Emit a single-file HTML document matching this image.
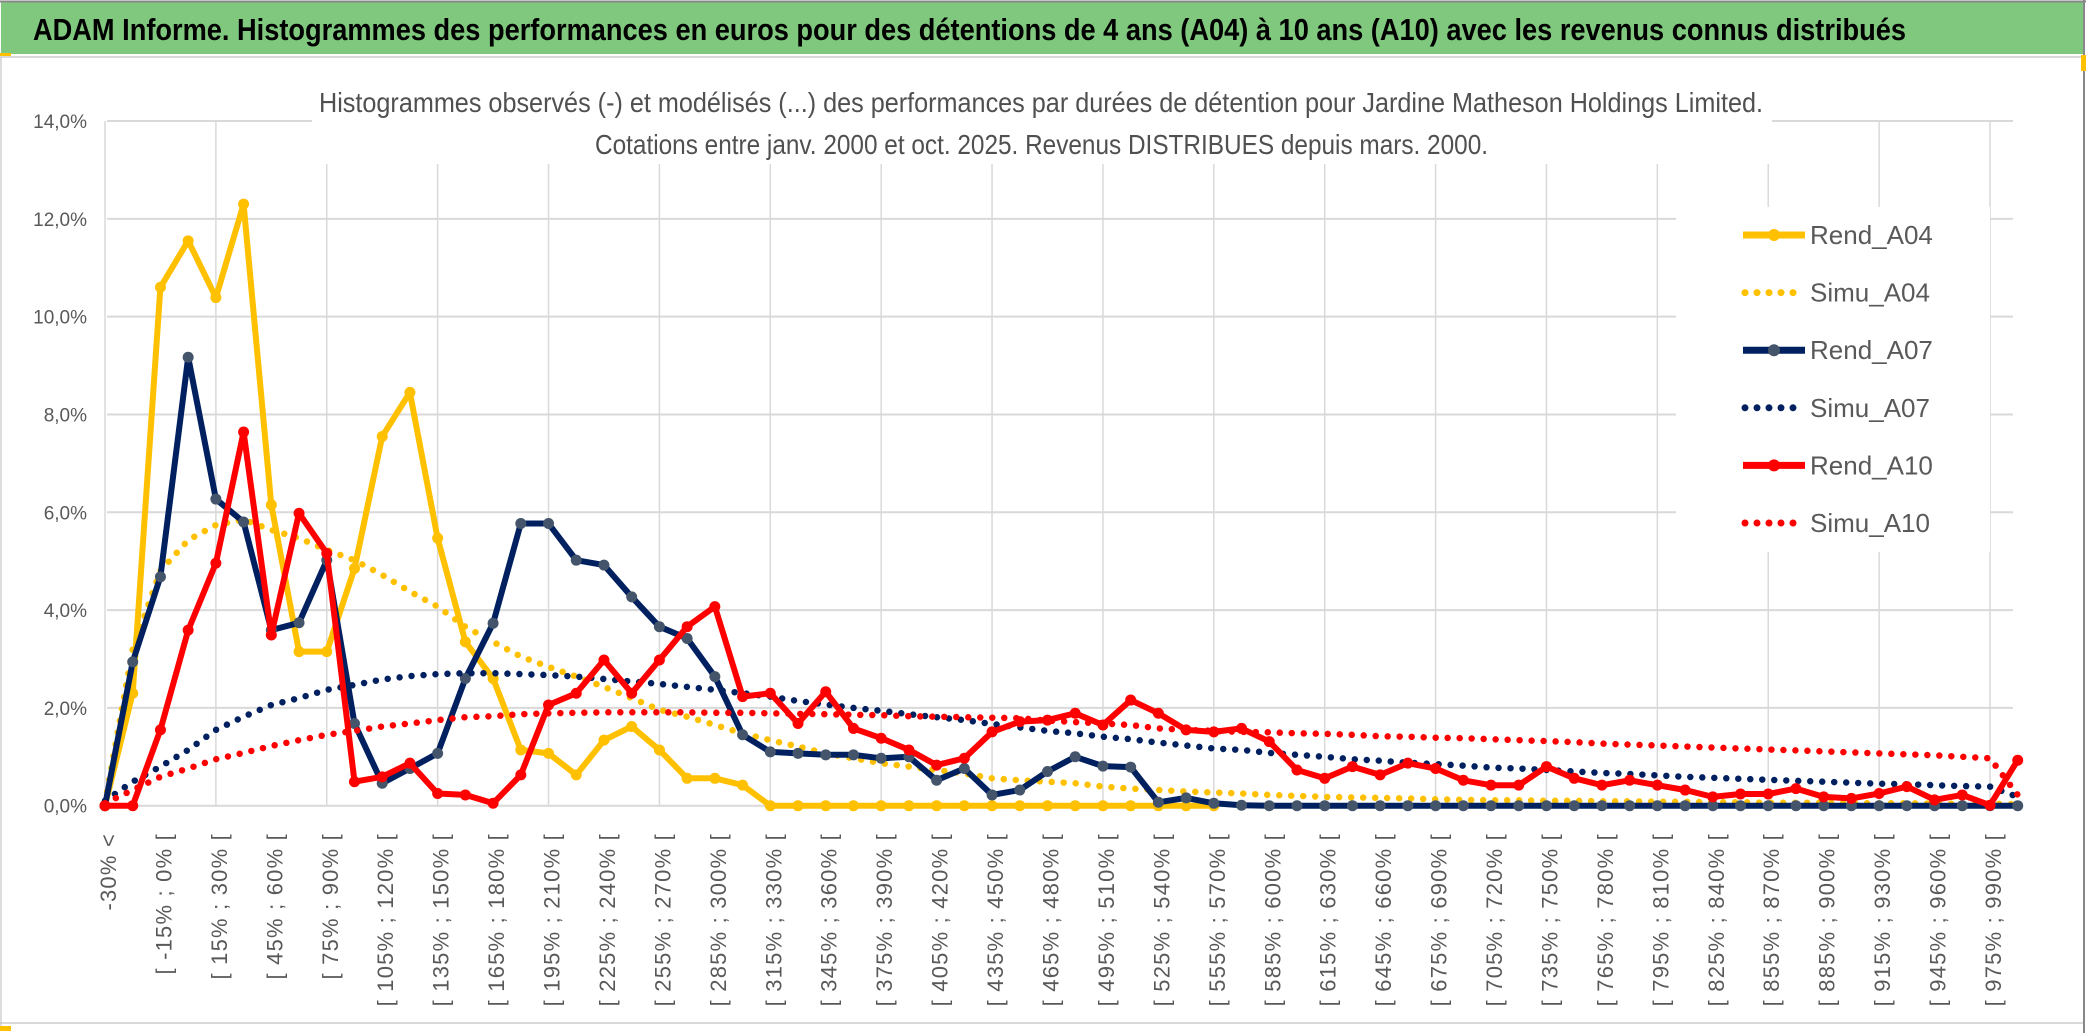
<!DOCTYPE html>
<html><head><meta charset="utf-8"><style>
body{margin:0;background:#fff}
svg{display:block}
text{font-family:"Liberation Sans",sans-serif}
</style></head><body>
<svg id="chart" width="2086" height="1033" viewBox="0 0 2086 1033" xmlns="http://www.w3.org/2000/svg">
<rect x="0" y="0" width="2086" height="1033" fill="#fff"/>
<rect x="1" y="2" width="2082" height="52" fill="#80C87E"/>
<line x1="0" y1="1.5" x2="2086" y2="1.5" stroke="#888" stroke-width="2"/>
<text x="33" y="40" font-size="31" font-weight="bold" fill="#000" textLength="1873" lengthAdjust="spacingAndGlyphs">ADAM Informe. Histogrammes des performances en euros pour des détentions de 4 ans (A04) à 10 ans (A10) avec les revenus connus distribués</text>
<rect x="0" y="53" width="11" height="4" fill="#FFC000"/>
<line x1="0" y1="57" x2="2083" y2="57" stroke="#d9d9d9" stroke-width="2"/>
<line x1="0" y1="1023" x2="2083" y2="1023" stroke="#d9d9d9" stroke-width="2"/>
<line x1="1" y1="57" x2="1" y2="1030" stroke="#bbb" stroke-width="1"/>
<line x1="2084" y1="0" x2="2084" y2="1033" stroke="#888" stroke-width="2"/>
<rect x="2081" y="55" width="5" height="16" fill="#FFC000"/>
<rect x="0" y="1026" width="11" height="5" fill="#FFC000"/>
<g id="grid"></g>
<rect x="312" y="68" width="1460" height="96" fill="#fff"/>
<text x="319" y="112" font-size="28" fill="#505050" textLength="1444" lengthAdjust="spacingAndGlyphs">Histogrammes observés (-) et modélisés (...) des performances par durées de détention pour Jardine Matheson Holdings Limited.</text>
<text x="595" y="154" font-size="28" fill="#505050" textLength="893" lengthAdjust="spacingAndGlyphs">Cotations entre janv. 2000 et oct. 2025. Revenus DISTRIBUES depuis mars. 2000.</text>
<rect x="1676" y="207" width="314" height="345" fill="#fff"/>
<g id="yaxis"></g>
<g id="xaxis"></g>
<g id="series"></g>
<g id="legend"></g>
</svg>
<script>
const yTicks=[0,2,4,6,8,10,12,14];
const rendA04=[0,2.3,10.6,11.55,10.39,12.3,6.15,3.15,3.15,4.85,7.55,8.45,5.47,3.35,2.6,1.14,1.07,0.63,1.34,1.62,1.14,0.56,0.56,0.42,0,0,0,0,0,0,0,0,0,0,0,0,0,0,0,0,0];
const rendA07=[0,2.94,4.68,9.17,6.27,5.8,3.59,3.74,5.02,1.68,0.46,0.76,1.07,2.6,3.73,5.77,5.77,5.02,4.92,4.27,3.66,3.42,2.64,1.45,1.1,1.07,1.04,1.04,0.97,1.0,0.52,0.76,0.22,0.32,0.7,1.0,0.81,0.79,0.07,0.16,0.05,0.01,0,0,0,0,0,0,0,0,0,0,0,0,0,0,0,0,0,0,0,0,0,0,0,0,0,0,0,0];
const rendA10=[0,0,1.55,3.59,4.96,7.64,3.49,5.98,5.16,0.49,0.59,0.87,0.25,0.22,0.05,0.63,2.06,2.3,2.98,2.3,2.98,3.66,4.07,2.23,2.3,1.68,2.33,1.58,1.38,1.14,0.83,0.97,1.51,1.72,1.75,1.89,1.65,2.16,1.89,1.55,1.51,1.58,1.31,0.73,0.56,0.8,0.63,0.87,0.76,0.52,0.42,0.42,0.8,0.56,0.42,0.52,0.42,0.32,0.18,0.24,0.24,0.35,0.18,0.15,0.25,0.39,0.12,0.22,0.01,0.93];
const simuA04=[0.05,3.2,4.8,5.43,5.74,5.85,5.64,5.47,5.23,5.02,4.72,4.38,4.07,3.66,3.35,3.05,2.84,2.64,2.43,2.2,1.96,1.82,1.65,1.48,1.34,1.21,1.07,0.97,0.87,0.8,0.73,0.66,0.56,0.52,0.49,0.46,0.39,0.35,0.32,0.29,0.27,0.25,0.22,0.2,0.18,0.17,0.16,0.15,0.13,0.12,0.11,0.11,0.1,0.1,0.09,0.09,0.08,0.08,0.07,0.07,0.06,0.06,0.06,0.05,0.05,0.05,0.04,0.04,0.04,0.03];
const simuA07=[0.1,0.49,0.8,1.14,1.55,1.82,2.06,2.2,2.37,2.47,2.58,2.65,2.69,2.71,2.71,2.69,2.67,2.64,2.59,2.54,2.49,2.43,2.37,2.3,2.23,2.14,2.07,2.0,1.94,1.87,1.81,1.75,1.67,1.6,1.53,1.48,1.41,1.36,1.29,1.23,1.17,1.14,1.08,1.04,1.0,0.95,0.92,0.88,0.85,0.82,0.78,0.76,0.73,0.7,0.67,0.65,0.62,0.59,0.57,0.55,0.53,0.51,0.49,0.47,0.45,0.44,0.42,0.4,0.39,0.18];
const simuA10=[0.05,0.32,0.59,0.76,0.95,1.08,1.22,1.34,1.45,1.53,1.62,1.68,1.75,1.81,1.83,1.87,1.89,1.9,1.91,1.91,1.91,1.91,1.9,1.9,1.89,1.88,1.87,1.86,1.85,1.83,1.82,1.81,1.8,1.79,1.74,1.71,1.68,1.65,1.58,1.55,1.53,1.51,1.5,1.48,1.47,1.45,1.42,1.41,1.39,1.38,1.36,1.34,1.32,1.3,1.27,1.25,1.23,1.21,1.19,1.17,1.15,1.13,1.11,1.09,1.07,1.05,1.03,1.0,0.97,0.22];
const categoryCount=70;

const NS="http://www.w3.org/2000/svg";
const X0=105,X68=1990,Y0=805.7,Y14=121,PR=2013;
function xPos(i){return X0+i*(X68-X0)/68;}
function yPos(v){return Y0-(v/14)*(Y0-Y14);}
function el(tag,attrs,parent){const e=document.createElementNS(NS,tag);for(const k in attrs)e.setAttribute(k,attrs[k]);parent.appendChild(e);return e;}
function catLabel(i){if(i===0)return "-30% <";const lo=-30+15*(i-1);return "[ "+lo+"% ; "+(lo+15)+"% [";}

const grid=document.getElementById('grid');
for(const t of yTicks){
  const l=el('line',{x1:107,y1:yPos(t),x2:PR,y2:yPos(t),stroke:'#d9d9d9','stroke-width':2},grid);
  
  
}
for(let i=0;i<=68;i+=4){
  const l=el('line',{x1:xPos(i),y1:Y14,x2:xPos(i),y2:Y0,stroke:'#d9d9d9','stroke-width':1.5},grid);
  
  
}
const ya=document.getElementById('yaxis');
for(const t of yTicks){
  const tx=el('text',{x:87,y:yPos(t)+7,'font-size':19,fill:'#595959','text-anchor':'end'},ya);
  tx.textContent=t.toFixed(1).replace('.',',')+'%';
  
  
}
const xa=document.getElementById('xaxis');
for(let i=0;i<categoryCount-1;i+=2){
  const bx=xPos(i)+11;
  const tx=el('text',{x:bx,y:833,'font-size':22,fill:'#595959','text-anchor':'end','letter-spacing':'1.2',transform:'rotate(-90 '+bx+' 833)'},xa);
  tx.textContent=catLabel(i);
  
  
}
const sg=document.getElementById('series');
function pts(arr){return arr.map((v,i)=>xPos(i).toFixed(1)+','+yPos(v).toFixed(1)).join(' ');}
function dotted(arr,color,name){
  const p=el('polyline',{points:pts(arr),fill:'none',stroke:color,'stroke-width':6.5,'stroke-linecap':'round','stroke-dasharray':'0 12'},sg);
  
  
}
function solid(arr,color,mk,name){
  const p=el('polyline',{points:pts(arr),fill:'none',stroke:color,'stroke-width':6,'stroke-linejoin':'round'},sg);
  
  
  arr.forEach((v,i)=>{
    const c=el('circle',{cx:xPos(i),cy:yPos(v),r:5.5,fill:mk},sg);
    
    
  });
}
solid(rendA04,'#FFC000','#FFC000','rend-a04-line');
dotted(simuA04,'#FFC000','simu-a04-line');
solid(rendA07,'#002060','#44546A','rend-a07-line');
dotted(simuA07,'#002060','simu-a07-line');
solid(rendA10,'#FF0000','#FF0000','rend-a10-line');
dotted(simuA10,'#FF0000','simu-a10-line');

const lg=document.getElementById('legend');
const entries=[['Rend_A04','#FFC000','#FFC000',false],['Simu_A04','#FFC000',null,true],['Rend_A07','#002060','#44546A',false],['Simu_A07','#002060',null,true],['Rend_A10','#FF0000','#FF0000',false],['Simu_A10','#FF0000',null,true]];
entries.forEach((e,k)=>{
  const y=235+57.6*k;
  const g=el('g',{},lg);
  
  
  if(e[3]){el('line',{x1:1745,y1:y,x2:1800,y2:y,stroke:e[1],'stroke-width':7,'stroke-linecap':'round','stroke-dasharray':'0 12'},g);}
  else{el('line',{x1:1743,y1:y,x2:1805,y2:y,stroke:e[1],'stroke-width':7},g);el('circle',{cx:1774,cy:y,r:6,fill:e[2]},g);}
  const t=el('text',{x:1810,y:y+9,'font-size':26,fill:'#595959'},g);
  t.textContent=e[0];
});
</script>
</body></html>
